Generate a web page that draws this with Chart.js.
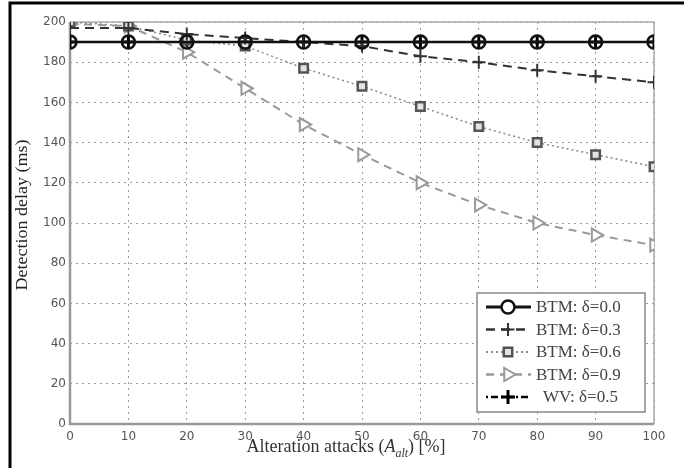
<!DOCTYPE html>
<html>
<head>
<meta charset="utf-8">
<script src="https://cdn.jsdelivr.net/npm/chart.js@4/dist/chart.umd.min.js"></script>
<style>
  html, body { margin: 0; padding: 0; background: #fff; }
  #wrap { width: 684px; height: 468px; }
</style>
</head>
<body>
<div id="wrap"><canvas id="delayChart" width="684" height="468"></canvas></div>
<script>
// values
const attacks = [0, 10, 20, 30, 40, 50, 60, 70, 80, 90, 100];
const btm00 = [190, 190, 190, 190, 190, 190, 190, 190, 190, 190, 190];
const btm03 = [197, 197, 194, 192, 190, 188, 183, 180, 176, 173, 170];
const btm06 = [200, 198, 191, 188, 177, 168, 158, 148, 140, 134, 128];
const btm09 = [199, 198, 185, 167, 149, 134, 120, 109, 100, 94, 89];
const wv05 = [190, 190, 190, 190, 190, 190, 190, 190, 190, 190, 190];
const seriesNames = ['BTM: δ=0.0', 'BTM: δ=0.3', 'BTM: δ=0.6', 'BTM: δ=0.9', 'WV: δ=0.5'];
const xTicks = [0, 10, 20, 30, 40, 50, 60, 70, 80, 90, 100];
const yTicks = [0, 20, 40, 60, 80, 100, 120, 140, 160, 180, 200];

const toPoints = vals => vals.map((v, i) => ({ x: attacks[i], y: v }));
const serif = '"Liberation Serif", "DejaVu Serif", serif';

// frame, plot box, axis titles and the in-plot legend
const decorPlugin = {
  id: 'decor',
  beforeDraw(chart) {
    const ctx = chart.ctx;
    ctx.save();
    ctx.fillStyle = '#fff';
    ctx.fillRect(0, 0, chart.width, chart.height);
    ctx.restore();
  },
  beforeDatasetsDraw(chart) {
    const { ctx, chartArea: a } = chart;
    ctx.save();
    ctx.strokeStyle = '#aaa';
    ctx.lineWidth = 1.5;
    ctx.beginPath();
    ctx.moveTo(a.left, a.top);
    ctx.lineTo(a.right, a.top);
    ctx.lineTo(a.right, a.bottom);
    ctx.stroke();
    // axis lines
    ctx.strokeStyle = '#999';
    ctx.lineWidth = 2.5;
    ctx.beginPath();
    ctx.moveTo(a.left, a.top);
    ctx.lineTo(a.left, a.bottom);
    ctx.lineTo(a.right, a.bottom);
    ctx.stroke();
    ctx.restore();
  },
  afterDraw(chart) {
    const ctx = chart.ctx;
    ctx.save();

    // outer black frame (left + top)
    ctx.strokeStyle = '#000';
    ctx.lineWidth = 3;
    ctx.beginPath();
    ctx.moveTo(10, 468);
    ctx.lineTo(10, 3);
    ctx.lineTo(684, 3);
    ctx.stroke();

    // y title
    ctx.fillStyle = '#222';
    ctx.font = '18px ' + serif;
    ctx.textAlign = 'center';
    ctx.textBaseline = 'middle';
    ctx.save();
    ctx.translate(23, 215);
    ctx.rotate(-Math.PI / 2);
    ctx.scale(1, 0.9);
    ctx.fillText('Detection delay (ms)', 0, 0);
    ctx.restore();

    // x title with subscript
    ctx.fillStyle = '#333';
    ctx.textBaseline = 'alphabetic';
    ctx.textAlign = 'left';
    const big = '18px ' + serif;
    const ital = 'italic 18px ' + serif;
    const sub = 'italic 12px ' + serif;
    const parts = [
      { t: 'Alteration attacks (', f: big, dy: 0 },
      { t: 'A', f: ital, dy: 0 },
      { t: 'alt', f: sub, dy: 5 },
      { t: ') [%]', f: big, dy: 0 }
    ];
    let total = 0;
    parts.forEach(p => { ctx.font = p.f; total += ctx.measureText(p.t).width; });
    let x = 346 - total / 2;
    parts.forEach(p => {
      ctx.font = p.f;
      ctx.fillText(p.t, x, 452 + p.dy);
      x += ctx.measureText(p.t).width;
    });

    // legend box
    const lx = 477, ly = 293, lw = 168, lh = 119;
    ctx.fillStyle = '#fff';
    ctx.fillRect(lx, ly, lw, lh);
    ctx.strokeStyle = '#888';
    ctx.lineWidth = 1.5;
    ctx.strokeRect(lx, ly, lw, lh);

    chart.data.datasets.forEach((ds, i) => {
      const cy = 307 + i * 22.5;
      ctx.save();
      ctx.strokeStyle = ds.borderColor;
      ctx.lineWidth = ds.borderWidth + 0.5;
      ctx.setLineDash(ds.borderDash || []);
      ctx.beginPath();
      ctx.moveTo(486, cy);
      ctx.lineTo(531, cy);
      ctx.stroke();
      ctx.restore();
      ctx.save();
      ctx.strokeStyle = ds.pointBorderColor;
      ctx.fillStyle = ds.pointBackgroundColor === 'rgba(0,0,0,0)' ? '#fff' : ds.pointBackgroundColor;
      ctx.lineWidth = ds.pointBorderWidth;
      Chart.helpers.drawPoint(ctx, {
        pointStyle: ds.pointStyle,
        radius: ds.pointRadius,
        rotation: ds.pointRotation || 0,
        borderWidth: ds.pointBorderWidth
      }, 508, cy);
      ctx.restore();
      ctx.fillStyle = '#444';
      ctx.font = '17px ' + serif;
      ctx.textAlign = 'left';
      ctx.textBaseline = 'middle';
      ctx.fillText(seriesNames[i], i === 4 ? 543 : 536, cy + 1);
    });

    ctx.restore();
  }
};

const ctx = document.getElementById('delayChart').getContext('2d');
new Chart(ctx, {
  type: 'line',
  data: {
    datasets: [
      {
        label: seriesNames[0], data: toPoints(btm00),
        borderColor: '#111', borderWidth: 2.5,
        pointStyle: 'circle', pointRadius: 6.5, pointBorderWidth: 2.5,
        pointBorderColor: '#111', pointBackgroundColor: 'rgba(0,0,0,0)'
      },
      {
        label: seriesNames[1], data: toPoints(btm03),
        borderColor: '#333', borderWidth: 2, borderDash: [9, 6],
        pointStyle: 'cross', pointRadius: 6.5, pointBorderWidth: 2,
        pointBorderColor: '#333', pointBackgroundColor: '#333'
      },
      {
        label: seriesNames[2], data: toPoints(btm06),
        borderColor: '#888', borderWidth: 1.5, borderDash: [2, 3],
        pointStyle: 'rect', pointRadius: 6, pointBorderWidth: 2.5,
        pointBorderColor: '#555', pointBackgroundColor: '#e4e4e4'
      },
      {
        label: seriesNames[3], data: toPoints(btm09),
        borderColor: '#999', borderWidth: 2, borderDash: [8, 6],
        pointStyle: 'triangle', pointRotation: 90, pointRadius: 7.5, pointBorderWidth: 2,
        pointBorderColor: '#999', pointBackgroundColor: '#fff'
      },
      {
        label: seriesNames[4], data: toPoints(wv05),
        borderColor: '#000', borderWidth: 2, borderDash: [2, 3, 7, 3],
        pointStyle: 'cross', pointRadius: 7, pointBorderWidth: 3,
        pointBorderColor: '#000', pointBackgroundColor: '#000'
      }
    ]
  },
  options: {
    responsive: false,
    animation: false,
    layout: { padding: { left: 0, top: 22, right: 30, bottom: 0 } },
    plugins: {
      legend: { display: false },
      tooltip: { enabled: false },
      title: { display: false }
    },
    scales: {
      x: {
        type: 'linear', min: 0, max: 100,
        afterFit: s => { s.height = 44; },
        afterBuildTicks: s => { s.ticks = xTicks.map(v => ({ value: v })); },
        grid: { color: '#999', drawTicks: false, lineWidth: 1 },
        border: { display: false, dash: [2, 4] },
        ticks: { padding: 6, color: '#555', font: { family: '"DejaVu Sans", sans-serif', size: 12 } }
      },
      y: {
        min: 0, max: 200,
        afterFit: s => { s.width = 70; },
        afterBuildTicks: s => { s.ticks = yTicks.map(v => ({ value: v })); },
        grid: { color: '#999', drawTicks: false, lineWidth: 1 },
        border: { display: false, dash: [2, 4] },
        ticks: { padding: 4, color: '#555', font: { family: '"DejaVu Sans", sans-serif', size: 12 } }
      }
    }
  },
  plugins: [decorPlugin]
});
</script>
</body>
</html>
